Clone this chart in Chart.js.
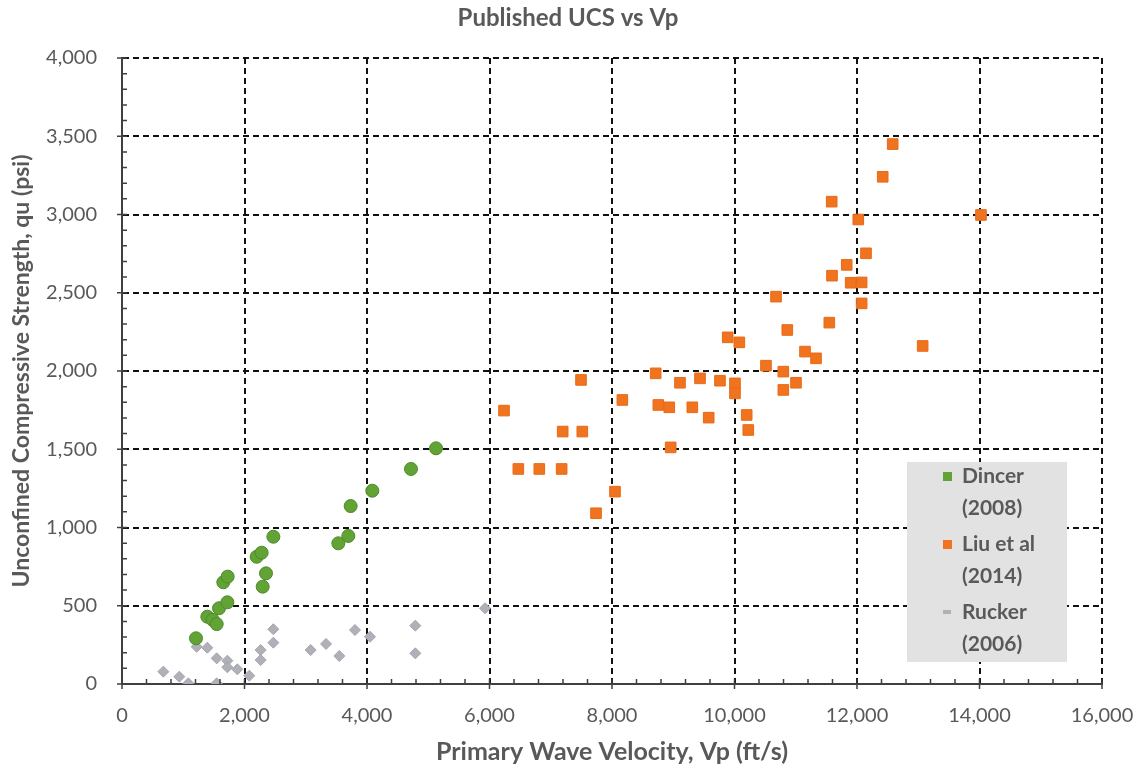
<!DOCTYPE html>
<html>
<head>
<meta charset="utf-8">
<script src="https://cdn.jsdelivr.net/npm/chart.js@4/dist/chart.umd.min.js"></script>
<style>
  html, body { margin: 0; padding: 0; background: #fff; }
  #wrap { width: 1145px; height: 769px; }
</style>
</head>
<body>
<div id="wrap"><canvas id="myChart"></canvas></div>
<script>
// Dincer (2008)
let dincerX = [1208, 1393, 1480, 1546, 1584, 1720, 1654, 1725, 2199, 2280, 2351, 2297, 2471, 3532, 3695, 3733, 4087, 4718, 5127];
let dincerY = [292, 430, 410, 383, 484, 522, 650, 686, 813, 839, 707, 622, 941, 899, 946, 1137, 1235, 1374, 1506];

// Liu et al (2014)
let liuX = [6237, 6471, 6813, 7178, 7195, 7494, 7515, 7739, 8049, 8169, 8713, 8756, 8935, 8958, 9110, 9311, 9437, 9579, 9763, 9889,
            10008, 10008, 10079, 10199, 10225, 10514, 10678, 10797, 10797, 10862, 11004, 11151, 11331, 11548, 11587, 11592, 11832,
            11897, 12021, 12076, 12076, 12147, 12420, 12583, 13072, 14024];
let liuY = [1747, 1374, 1374, 1374, 1613, 1943, 1613, 1091, 1229, 1815, 1985, 1783, 1768, 1512, 1925, 1768, 1953, 1702, 1938, 2215,
            1921, 1857, 2183, 1719, 1623, 2034, 2475, 1996, 1879, 2262, 1925, 2124, 2081, 2309, 3082, 2609, 2678,
            2564, 2968, 2566, 2432, 2752, 3241, 3450, 2160, 2997];

// Rucker (2006)
let ruckerX = [675, 936, 1083, 1219, 1393, 1546, 1720, 1720, 1883, 2078, 1546, 2264, 2264, 2471, 2471, 3080, 3331, 3548, 3804, 4049, 4789, 4789, 5927];
let ruckerY = [79, 47, 4, 238, 232, 164, 149, 107, 94, 53, 4, 217, 153, 350, 264, 217, 256, 179, 345, 302, 373, 196, 484];

let serieNames = [['Dincer', '(2008)'], ['Liu et al', '(2014)'], ['Rucker', '(2006)']];
let tituloGraf = 'Published UCS vs Vp';
let tituloX = 'Primary Wave Velocity, Vp (ft/s)';
let tituloY = 'Unconfined Compressive Strength, qu (psi)';

function puntos(xs, ys) {
    return xs.map((x, i) => ({ x: x, y: ys[i] }));
}

const colores = ['#62a336', '#f0741f', '#b0b0b8'];
const gris = '#595959';

// titulo, ticks menores y leyenda dibujados a mano
const extras = {
    id: 'extras',
    afterDraw(chart) {
        const ctx = chart.ctx;
        const a = chart.chartArea;
        const sx = chart.scales.x, sy = chart.scales.y;
        ctx.save();

        ctx.fillStyle = gris;
        ctx.font = 'bold 24px Lato';
        ctx.textAlign = 'center';
        ctx.textBaseline = 'middle';
        ctx.fillText(tituloGraf, 568, 18);

        // ticks
        ctx.strokeStyle = '#404040';
        ctx.lineWidth = 1.5;
        ctx.beginPath();
        for (let v = 0; v <= 16000; v += 400) {
            const px = sx.getPixelForValue(v);
            const major = v % 2000 === 0;
            ctx.moveTo(px, a.bottom + (major ? 5 : 0));
            ctx.lineTo(px, a.bottom - 5);
        }
        for (let v = 0; v <= 4000; v += 100) {
            const py = sy.getPixelForValue(v);
            const major = v % 500 === 0;
            ctx.moveTo(a.left - (major ? 5 : 0), py);
            ctx.lineTo(a.left + 5, py);
        }
        ctx.stroke();

        // leyenda
        const lx = a.right - 195, ly = a.top + 404;
        ctx.fillStyle = '#e2e2e2';
        ctx.fillRect(lx, ly, 160, 200);
        ctx.font = 'bold 21px Lato';
        ctx.textAlign = 'left';
        for (let i = 0; i < 3; i++) {
            const cy = ly + 14 + i * 68;
            ctx.fillStyle = colores[i];
            if (i === 2) {
                ctx.fillRect(lx + 36, cy - 2, 8, 4);
            } else {
                ctx.fillRect(lx + 36, cy - 4, 9, 9);
            }
            ctx.fillStyle = gris;
            ctx.fillText(serieNames[i][0], lx + 55, cy);
            ctx.fillText(serieNames[i][1], lx + 55, cy + 32);
        }
        ctx.restore();
    }
};

const ctx = document.getElementById('myChart').getContext('2d');
const myChart = new Chart(ctx, {
    type: 'scatter',
    data: {
        datasets: [{
            label: 'Dincer (2008)',
            data: puntos(dincerX, dincerY),
            pointStyle: 'circle',
            pointRadius: 6.5,
            backgroundColor: colores[0],
            borderColor: '#4d8a2a',
            borderWidth: 1
        }, {
            label: 'Liu et al (2014)',
            data: puntos(liuX, liuY),
            pointStyle: 'rect',
            pointRadius: 7.5,
            backgroundColor: colores[1],
            borderColor: '#e86a18',
            borderWidth: 1
        }, {
            label: 'Rucker (2006)',
            data: puntos(ruckerX, ruckerY),
            pointStyle: 'rectRot',
            pointRadius: 5.5,
            backgroundColor: colores[2],
            borderColor: '#a4a4ac',
            borderWidth: 1
        }]
    },
    options: {
        responsive: true,
        maintainAspectRatio: false,
        animation: false,
        layout: { padding: { top: 58, right: 43, left: 0, bottom: 0 } },
        plugins: {
            legend: { display: false },
            title: { display: false },
            tooltip: { enabled: false }
        },
        scales: {
            x: {
                type: 'linear',
                min: 0,
                max: 16000,
                afterFit: (s) => { s.height = 85; s.paddingLeft = 0; s.paddingRight = 0; },
                ticks: { stepSize: 2000, padding: 20, maxRotation: 0, color: gris, font: { family: 'Lato', size: 20 } },
                grid: { color: '#111', lineWidth: 2, drawTicks: false },
                border: { display: true, color: '#404040', width: 2, dash: [6, 4] },
                title: { display: true, text: tituloX, color: gris, font: { family: 'Lato', size: 25, weight: 'bold' }, padding: { top: 2, bottom: 2 } }
            },
            y: {
                type: 'linear',
                min: 0,
                max: 4000,
                afterFit: (s) => { s.width = 122; s.paddingTop = 0; s.paddingBottom = 0; },
                ticks: { stepSize: 500, padding: 25, color: gris, font: { family: 'Lato', size: 20 } },
                grid: { color: '#111', lineWidth: 2, drawTicks: false },
                border: { display: true, color: '#404040', width: 2, dash: [6, 4] },
                title: { display: true, text: tituloY, color: gris, font: { family: 'Lato', size: 23, weight: 'bold' }, padding: { top: 8, bottom: 0 } }
            }
        }
    },
    plugins: [extras]
});
</script>
</body>
</html>
